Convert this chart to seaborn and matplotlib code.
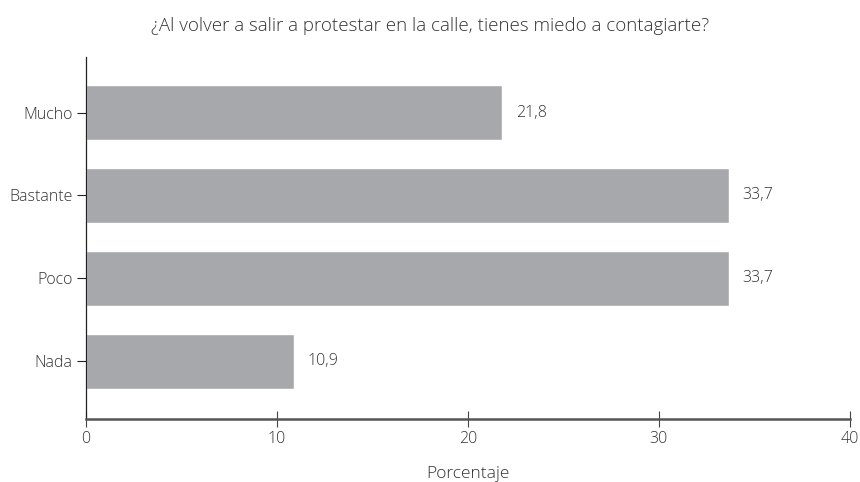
import matplotlib
matplotlib.use("Agg")
import matplotlib.pyplot as plt
import seaborn as sns
import pandas as pd

# data
categorias = ["Mucho", "Bastante", "Poco", "Nada"]
porcentajes = [21.8, 33.7, 33.7, 10.9]
titulo = "¿Al volver a salir a protestar en la calle, tienes miedo a contagiarte?"

df = pd.DataFrame({"cat": categorias, "pct": porcentajes})

sns.set_style("white")
plt.rcParams["font.family"] = ["Open Sans", "DejaVu Sans"]
plt.rcParams["font.weight"] = "light"

fig = plt.figure(figsize=(8.6, 4.82), dpi=100)
ax = fig.add_axes([0.1, 0.1307, 0.888, 0.751])

sns.barplot(data=df, x="pct", y="cat", color="#a7a8ab", saturation=1,
            width=0.664, ax=ax)

for i, v in enumerate(porcentajes):
    ax.text(v + 0.7, i, f"{v:.1f}".replace(".", ","), va="center", ha="left",
            fontsize=11.5, color="#333333", fontweight="light")

ax.set_xlim(0, 40)
ax.set_ylim(3.7, -0.67)
ax.set_xticks([0, 10, 20, 30, 40])
ax.set_ylabel("")
ax.set_xlabel("Porcentaje", fontsize=12.5, color="#333333", labelpad=14,
              fontweight="light")
fig.text(0.5, 0.946, titulo, fontsize=13.5, color="#333333", ha="center",
         va="center", fontweight="light")

for s in ["top", "right"]:
    ax.spines[s].set_visible(False)
ax.spines["left"].set_color("#222222")
ax.spines["left"].set_linewidth(0.9)
ax.spines["bottom"].set_color("#555555")
ax.spines["bottom"].set_linewidth(1.8)

ax.tick_params(axis="x", bottom=True, direction="inout", length=11, width=0.8,
               color="#444444", labelsize=11.5, labelcolor="#333333", pad=3)
ax.tick_params(axis="y", left=True, direction="out", length=6.5, width=0.8,
               color="#222222", labelsize=11.5, labelcolor="#333333", pad=3)

fig.savefig("out.png", dpi=100)
